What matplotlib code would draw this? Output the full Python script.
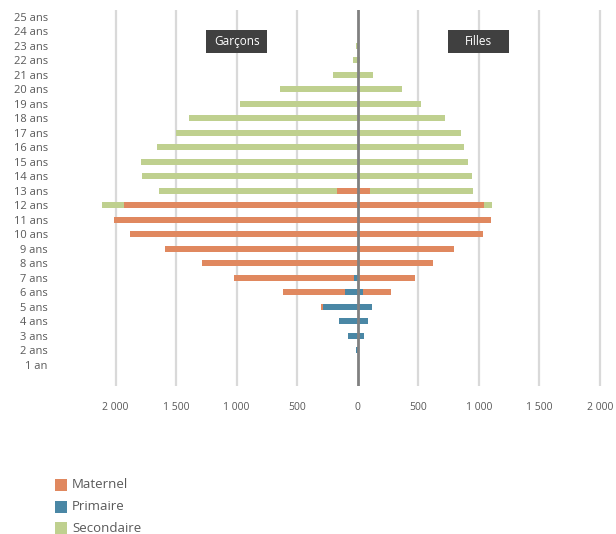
import matplotlib
matplotlib.use("Agg")
import matplotlib.pyplot as plt
from matplotlib.patches import Rectangle
import numpy as np

plt.rcParams['font.family'] = ['Open Sans', 'DejaVu Sans']

ages = ["1 an"] + [f"{a} ans" for a in range(2, 26)]
# values for ages 1..25
garcons_maternel = [0, 0, 0, 0, 300, 620, 1020, 1290, 1590, 1880, 2010, 1930, 170,
                    0, 0, 0, 0, 0, 0, 0, 0, 0, 0, 0, 0]
garcons_primaire = [0, 15, 80, 155, 290, 105, 30, 0, 0, 0, 0, 0, 0,
                    0, 0, 0, 0, 0, 0, 0, 0, 0, 0, 0, 0]
garcons_secondaire = [0, 0, 0, 0, 0, 0, 0, 0, 0, 0, 0, 2110, 1640,
                      1780, 1790, 1660, 1500, 1390, 970, 640, 200, 40, 10, 0, 0]
filles_maternel = [0, 0, 0, 0, 0, 275, 470, 625, 795, 1035, 1105, 1045, 105,
                   0, 0, 0, 0, 0, 0, 0, 0, 0, 0, 0, 0]
filles_primaire = [0, 8, 55, 85, 120, 40, 0, 0, 0, 0, 0, 0, 0,
                   0, 0, 0, 0, 0, 0, 0, 0, 0, 0, 0, 0]
filles_secondaire = [0, 0, 0, 0, 0, 0, 0, 0, 0, 0, 0, 1110, 950,
                     945, 910, 875, 850, 720, 520, 370, 130, 20, 0, 0, 0]

tick_values = [-2000, -1500, -1000, -500, 0, 500, 1000, 1500, 2000]
tick_labels = ["2 000", "1 500", "1 000", "500", "0", "500", "1 000", "1 500", "2 000"]
series_names = ["Maternel", "Primaire", "Secondaire"]
colors = {"Maternel": "#E0885F", "Primaire": "#4A87A5", "Secondaire": "#BFD08F"}

fig = plt.figure(figsize=(6.16, 5.34), dpi=100)
ax = fig.add_axes([96.3 / 616, 1 - 386 / 534, (611.8 - 96.3) / 616, (386 - 10) / 534])

y = np.arange(len(ages))
h = 0.42
# draw order: secondaire (bottom), maternel, primaire (top)
for name, g, f, z in [("Secondaire", garcons_secondaire, filles_secondaire, 2),
                      ("Maternel", garcons_maternel, filles_maternel, 3),
                      ("Primaire", garcons_primaire, filles_primaire, 4)]:
    ax.barh(y, -np.array(g), height=h, color=colors[name], zorder=z, linewidth=0)
    ax.barh(y, np.array(f), height=h, color=colors[name], zorder=z, linewidth=0)

ax.axvline(0, color="#808080", lw=2.0, zorder=6)
for t in tick_values:
    if t != 0:
        ax.axvline(t, color="#D9D9D9", lw=1.6, zorder=1)

ax.set_xlim(-2160, 2100)
ax.set_ylim(-1.45, 24.46)
ax.set_xticks(tick_values)
ax.set_xticklabels(tick_labels)
ax.set_yticks(y)
ax.set_yticklabels(ages)
ax.tick_params(axis="x", length=0, pad=11.5, labelsize=7.5, labelcolor="#595959")
ax.tick_params(axis="y", length=0, pad=35, labelsize=8, labelcolor="#595959")
for s in ax.spines.values():
    s.set_visible(False)

# header boxes
for cx, txt in [(-1000, "Garçons"), (1000, "Filles")]:
    ax.add_patch(Rectangle((cx - 252, 21.5), 504, 1.6, color="#404040", zorder=7, linewidth=0))
    ax.text(cx, 22.3, txt, color="white", ha="center", va="center", fontsize=8.5, zorder=8)

# legend
for i, name in enumerate(series_names):
    yc = 485 + i * 21.5
    fig.patches.append(Rectangle((55 / 616, 1 - (yc + 6) / 534), 12 / 616, 12 / 534,
                                 transform=fig.transFigure, color=colors[name], linewidth=0))
    fig.text(72 / 616, 1 - yc / 534, name, ha="left", va="center", fontsize=9.5, color="#595959")

fig.savefig("out.png", dpi=100)
